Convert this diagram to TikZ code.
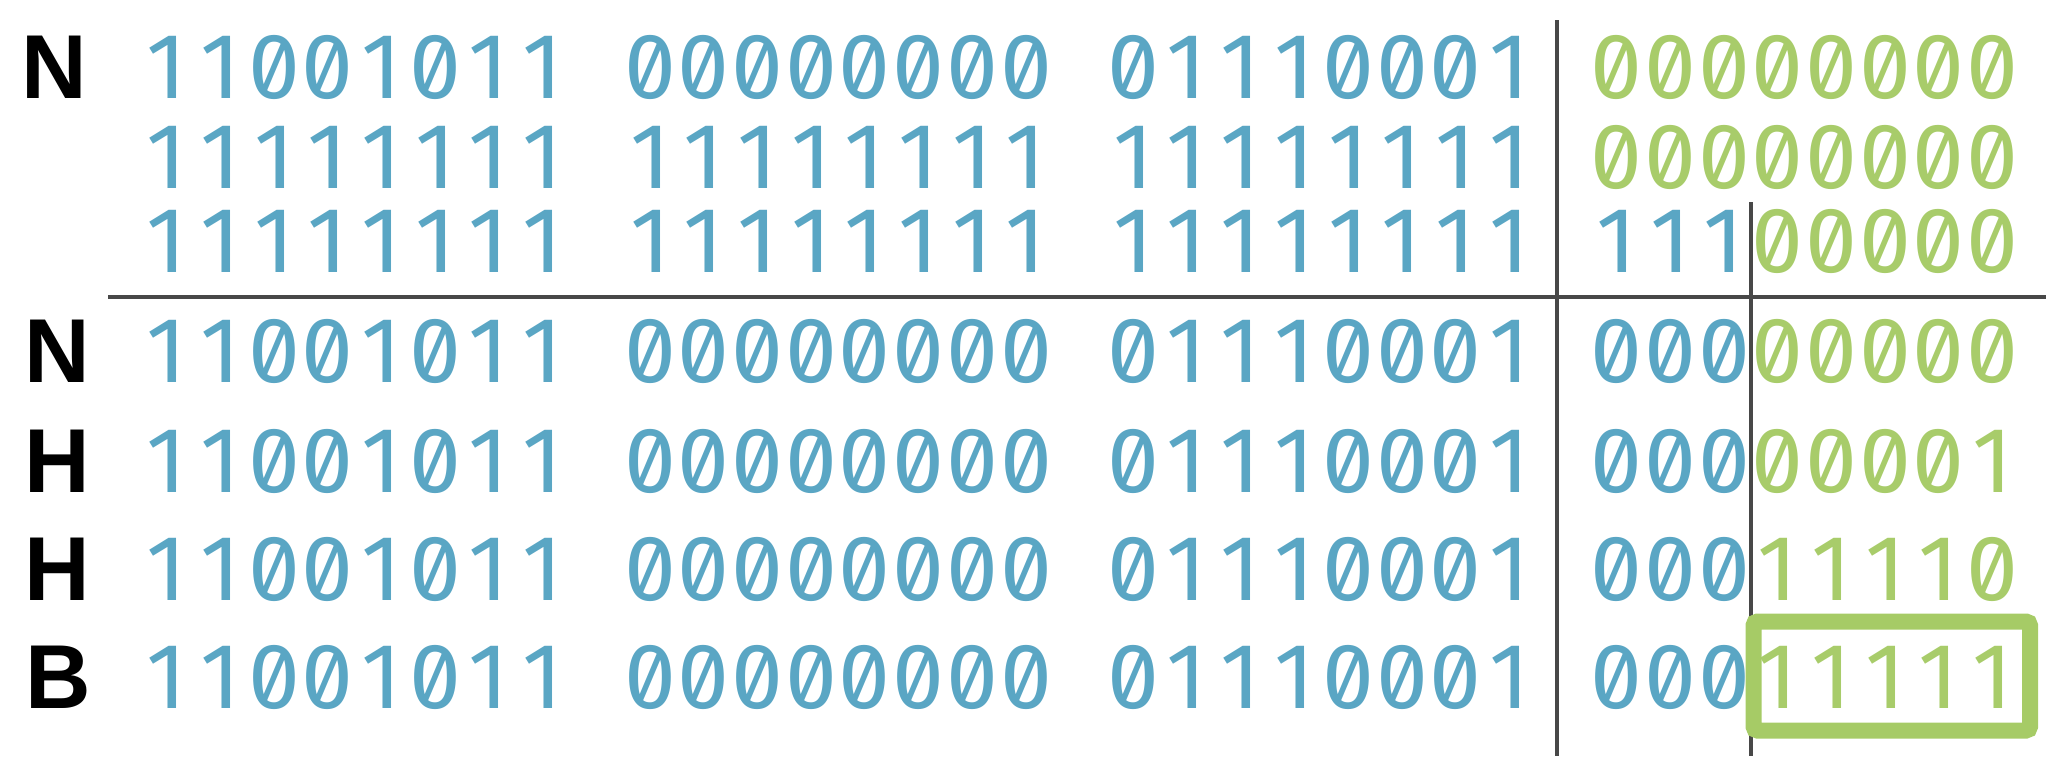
\documentclass[tikz,border=0pt]{standalone}
\usepackage{fontspec}
\newfontfamily\monof[Numbers={Proportional,Lining,SlashedZero}]{Fira Sans}
\newfontfamily\labf{Liberation Sans}
\definecolor{bitblue}{RGB}{90,166,196}
\definecolor{bitgreen}{RGB}{168,204,106}
\definecolor{boxgreen}{RGB}{166,203,102}
\definecolor{rulegray}{RGB}{72,72,72}
\newlength\bitpitch
\setlength\bitpitch{53.7pt}
\def\bitloop#1{\ifx#1\relax\else\makebox[\bitpitch][c]{#1}\expandafter\bitloop\fi}
\newcommand\bitrow[1]{\bitloop#1\relax}
\begin{document}
\begin{tikzpicture}[x=1pt,y=-1pt,
  bits/.style={anchor=base west, inner sep=0pt, outer sep=0pt, font=\monof\fontsize{93}{94}\selectfont},
  net/.style={bits, text=bitblue},
  host/.style={bits, text=bitgreen},
  lab/.style={anchor=base, inner sep=0pt, outer sep=0pt, font=\labf\bfseries\fontsize{90.8}{91}\selectfont, text=black},
  ruleline/.style={draw=rulegray, line width=3.5pt},
  hitbox/.style={draw=boxgreen, line width=16pt, rounded corners=4pt}]
\useasboundingbox (0,0) rectangle (2070,756);
% row 1
\node[lab] (l1) at (54,98) {N};
\node[net] (r1a) at (140,98) {\bitrow{11001011}};
\node[net] (r1b) at (623.3,98) {\bitrow{00000000}};
\node[net] (r1c) at (1106.6,98) {\bitrow{01110001}};
\node[host] (r1d) at (1589.9,98) {\bitrow{00000000}};
% row 2
\node[net] (r2a) at (140,188) {\bitrow{11111111}};
\node[net] (r2b) at (623.3,188) {\bitrow{11111111}};
\node[net] (r2c) at (1106.6,188) {\bitrow{11111111}};
\node[host] (r2d) at (1589.9,188) {\bitrow{00000000}};
% row 3
\node[net] (r3a) at (140,272) {\bitrow{11111111}};
\node[net] (r3b) at (623.3,272) {\bitrow{11111111}};
\node[net] (r3c) at (1106.6,272) {\bitrow{11111111}};
\node[net] (r3d) at (1589.9,272) {\bitrow{111}};
\node[host] (r3e) at (1751,272) {\bitrow{00000}};
% row 4
\node[lab] (l4) at (57,382) {N};
\node[net] (r4a) at (140,382) {\bitrow{11001011}};
\node[net] (r4b) at (623.3,382) {\bitrow{00000000}};
\node[net] (r4c) at (1106.6,382) {\bitrow{01110001}};
\node[net] (r4d) at (1589.9,382) {\bitrow{000}};
\node[host] (r4e) at (1751,382) {\bitrow{00000}};
% row 5
\node[lab] (l5) at (57,492) {H};
\node[net] (r5a) at (140,492) {\bitrow{11001011}};
\node[net] (r5b) at (623.3,492) {\bitrow{00000000}};
\node[net] (r5c) at (1106.6,492) {\bitrow{01110001}};
\node[net] (r5d) at (1589.9,492) {\bitrow{000}};
\node[host] (r5e) at (1751,492) {\bitrow{00001}};
% row 6
\node[lab] (l6) at (57,600) {H};
\node[net] (r6a) at (140,600) {\bitrow{11001011}};
\node[net] (r6b) at (623.3,600) {\bitrow{00000000}};
\node[net] (r6c) at (1106.6,600) {\bitrow{01110001}};
\node[net] (r6d) at (1589.9,600) {\bitrow{000}};
\node[host] (r6e) at (1751,600) {\bitrow{11110}};
% row 7
\node[lab] (l7) at (58,708) {B};
\node[net] (r7a) at (140,708) {\bitrow{11001011}};
\node[net] (r7b) at (623.3,708) {\bitrow{00000000}};
\node[net] (r7c) at (1106.6,708) {\bitrow{01110001}};
\node[net] (r7d) at (1589.9,708) {\bitrow{000}};
\node[host] (r7e) at (1751,708) {\bitrow{11111}};
% rules
\coordinate (hl) at (108,297);
\coordinate (hr) at (2046,297);
\coordinate (v1t) at (1557,20);
\coordinate (v1b) at (1557,756);
\coordinate (v2t) at (1751,202);
\coordinate (v2b) at (1751,756);
\draw[ruleline] (hl) -- (hr);
\draw[ruleline] (v1t) -- (v1b);
\draw[ruleline] (v2t) -- (v2b);
% highlight box
\coordinate (bx1) at (1753.5,621.5);
\coordinate (bx2) at (2030,730.5);
\draw[hitbox] (bx1) rectangle (bx2);
\end{tikzpicture}
\end{document}
